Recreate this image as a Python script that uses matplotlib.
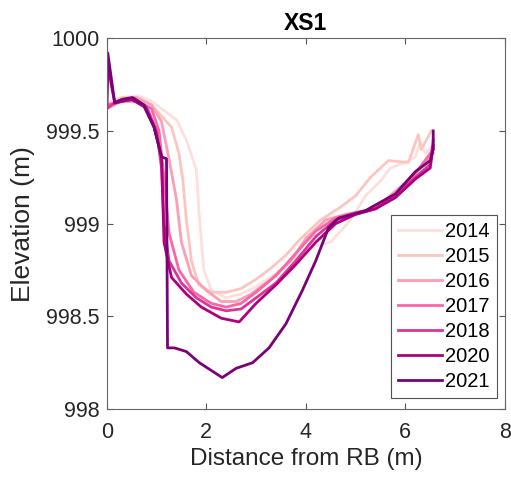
import numpy as np
import matplotlib.pyplot as plt

plt.rcParams['font.family'] = ['Liberation Sans', 'DejaVu Sans']

years = ["2014", "2015", "2016", "2017", "2018", "2020", "2021"]
colors = ["#fde0dd", "#fcc5c0", "#fa9fb5", "#f768a1", "#dd3497", "#ae017e", "#7a0177"]

x14 = [0, 0.3, 0.6, 0.9, 1.2, 1.4, 1.6, 1.8, 1.87, 1.95, 2.1, 2.4, 2.7, 3.0, 3.4, 3.8, 4.2, 4.5, 4.9, 5.2, 5.5, 5.7, 6.0, 6.2, 6.3, 6.4, 6.55]
y14 = [999.65, 999.68, 999.69, 999.66, 999.6, 999.56, 999.45, 999.29, 999.0, 998.75, 998.64, 998.6, 998.62, 998.66, 998.73, 998.82, 998.88, 998.9, 999.02, 999.15, 999.23, 999.3, 999.33, 999.36, 999.44, 999.38, 999.42]

x15 = [0, 0.3, 0.6, 0.9, 1.1, 1.3, 1.45, 1.53, 1.6, 1.7, 1.85, 2.1, 2.4, 2.7, 3.0, 3.3, 3.6, 3.9, 4.3, 4.7, 5.0, 5.3, 5.66, 6.06, 6.26, 6.32, 6.52]
y15 = [999.63, 999.68, 999.68, 999.64, 999.58, 999.52, 999.38, 999.23, 999.02, 998.8, 998.67, 998.63, 998.63, 998.65, 998.7, 998.76, 998.83, 998.92, 999.02, 999.09, 999.15, 999.25, 999.34, 999.33, 999.48, 999.4, 999.5]

x16 = [0, 0.3, 0.6, 0.9, 1.1, 1.25, 1.4, 1.5, 1.7, 2.0, 2.3, 2.6, 2.9, 3.3, 3.7, 4.0, 4.4, 4.8, 5.2, 5.6, 6.0, 6.3, 6.56]
y16 = [999.62, 999.66, 999.68, 999.64, 999.55, 999.35, 999.13, 998.9, 998.72, 998.64, 998.58, 998.58, 998.62, 998.7, 998.8, 998.92, 999.02, 999.05, 999.07, 999.13, 999.22, 999.3, 999.38]

x17 = [0, 0.3, 0.6, 0.9, 1.05, 1.15, 1.25, 1.45, 1.75, 2.1, 2.4, 2.7, 3.0, 3.4, 3.8, 4.2, 4.6, 5.0, 5.4, 5.8, 6.2, 6.56]
y17 = [999.64, 999.66, 999.66, 999.62, 999.5, 999.25, 998.95, 998.75, 998.63, 998.57, 998.55, 998.57, 998.63, 998.72, 998.84, 998.96, 999.03, 999.06, 999.08, 999.15, 999.27, 999.4]

x18 = [0, 0.2, 0.5, 0.8, 1.0, 1.1, 1.15, 1.25, 1.5, 1.8, 2.1, 2.4, 2.7, 3.0, 3.4, 3.8, 4.2, 4.6, 5.0, 5.4, 5.8, 6.2, 6.5, 6.56]
y18 = [999.62, 999.66, 999.67, 999.63, 999.5, 999.3, 999.0, 998.8, 998.68, 998.6, 998.55, 998.53, 998.54, 998.6, 998.68, 998.8, 998.93, 999.02, 999.05, 999.08, 999.15, 999.25, 999.32, 999.45]

x20 = [0, 0.02, 0.16, 0.5, 0.75, 0.95, 1.1, 1.15, 1.3, 1.6, 1.9, 2.3, 2.66, 3.0, 3.4, 3.8, 4.2, 4.6, 5.0, 5.4, 5.8, 6.2, 6.5, 6.56]
y20 = [999.64, 999.85, 999.65, 999.67, 999.63, 999.52, 999.36, 998.9, 998.71, 998.62, 998.55, 998.49, 998.47, 998.57, 998.67, 998.78, 998.9, 999.0, 999.05, 999.08, 999.14, 999.24, 999.3, 999.42]

x21 = [0, 0.02, 0.16, 0.3, 0.52, 0.75, 0.95, 1.1, 1.2, 1.22, 1.36, 1.6, 1.86, 2.32, 2.6, 2.93, 3.26, 3.6, 3.93, 4.2, 4.46, 4.66, 5.2, 5.8, 6.2, 6.5, 6.56, 6.56]
y21 = [999.64, 999.92, 999.65, 999.67, 999.68, 999.64, 999.52, 999.36, 999.35, 998.33, 998.33, 998.31, 998.25, 998.17, 998.22, 998.25, 998.33, 998.46, 998.64, 998.8, 998.98, 999.03, 999.07, 999.16, 999.28, 999.34, 999.4, 999.5]

xs = [x14, x15, x16, x17, x18, x20, x21]
ys = [y14, y15, y16, y17, y18, y20, y21]

fig = plt.figure(figsize=(5.11, 4.83), dpi=100)
ax = fig.add_axes([0.209, 0.153, 0.779, 0.768])

for x, y, c, lab in zip(xs, ys, colors, years):
    ax.plot(x, y, color=c, linewidth=2.0, label=lab)

ax.set_xlim(0, 8)
ax.set_ylim(998, 1000)
ax.set_xticks([0, 2, 4, 6, 8])
ax.set_yticks([998, 998.5, 999, 999.5, 1000])
ax.set_yticklabels(["998", "998.5", "999", "999.5", "1000"])
ax.tick_params(direction='in', top=True, right=True, labelsize=15.5, colors='#555555',
               labelcolor='#262626', length=4, pad=5)
ax.tick_params(axis='x', pad=9)
for s in ax.spines.values():
    s.set_color('#666666')
    s.set_linewidth(0.8)

ax.set_xlabel("Distance from RB (m)", fontsize=17.5, color='#262626', labelpad=4)
ax.set_ylabel("Elevation (m)", fontsize=19, color='#262626', labelpad=8)
ax.set_title("XS1", fontsize=16.5, fontweight='bold', pad=6)

leg = ax.legend(loc='lower right', fontsize=14.5, frameon=True, fancybox=False, edgecolor='#262626',
                handlelength=2.2, handletextpad=0.15, labelspacing=0.3, borderpad=0.35,
                borderaxespad=0, bbox_to_anchor=(0.98, 0.03))
leg.get_frame().set_linewidth(0.8)

fig.savefig("out.png", dpi=100)
